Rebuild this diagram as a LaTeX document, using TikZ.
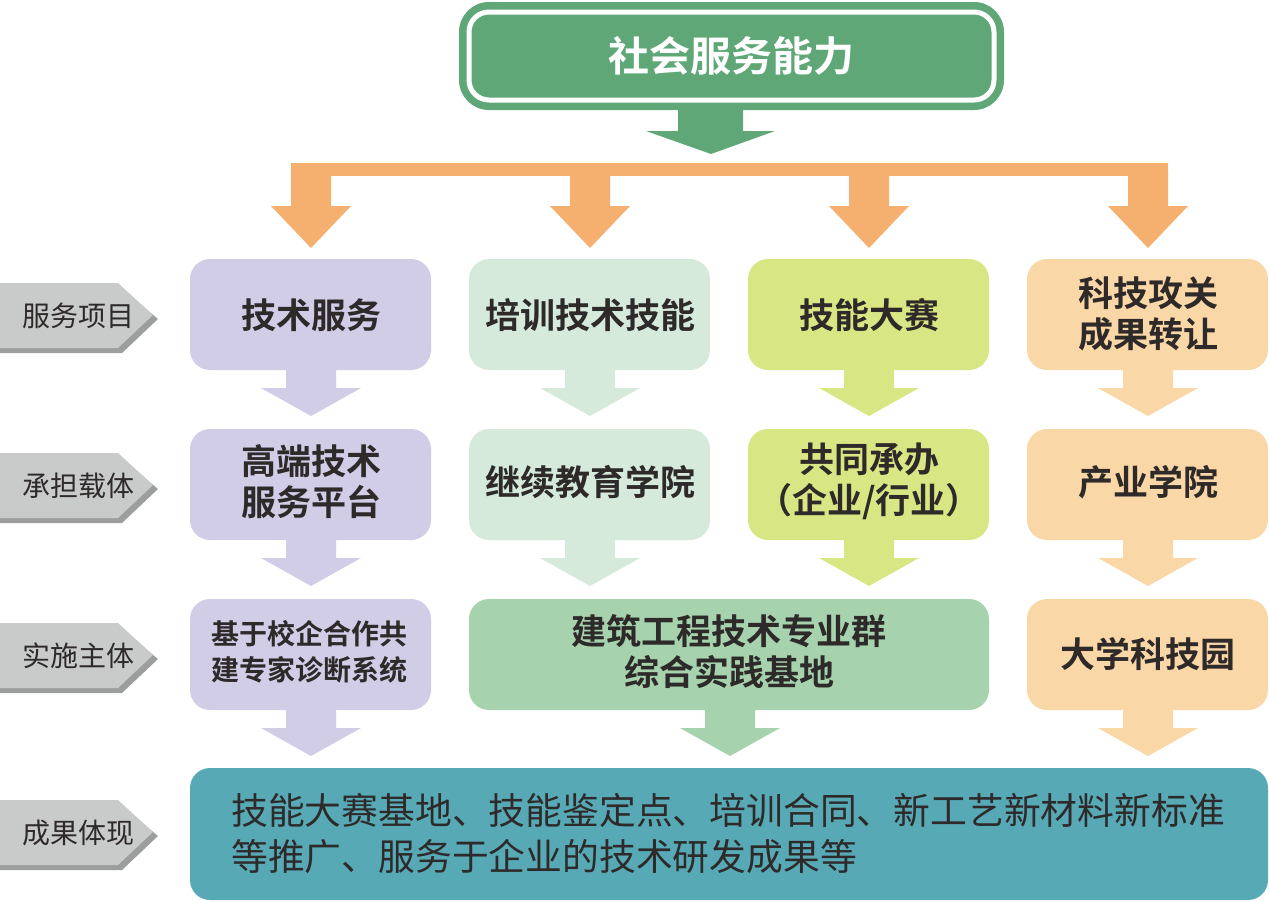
\documentclass[tikz,border=0pt]{standalone}
\usepackage{fontspec}
\newfontfamily\cjk{Noto Sans CJK SC}
\newfontfamily\cjkb{Noto Sans CJK SC Bold}
\begin{document}
\begin{tikzpicture}[x=1pt,y=-1pt,
  box/.style={rounded corners=20pt},
  lbl/.style={font=\cjkb\fontsize{35}{41}\selectfont,color=txt,align=center,inner sep=0pt},
  tag/.style={font=\cjk\fontsize{28}{30}\selectfont,color=txt}]
\definecolor{txt}{HTML}{2E2A2A}
\definecolor{pu}{HTML}{D1CDE7}
\definecolor{lg}{HTML}{D5EADB}
\definecolor{li}{HTML}{D8E683}
\definecolor{pe}{HTML}{FAD7A6}
\definecolor{mg}{HTML}{A6D3AE}
\definecolor{te}{HTML}{57A9B5}
\definecolor{or}{HTML}{F5AF6E}
\definecolor{tg}{HTML}{5FA777}
\definecolor{g1}{HTML}{C9CACA}
\definecolor{g2}{HTML}{9C9D9D}
\useasboundingbox (0,0) rectangle (1269,902);
% top
\fill[tg,rounded corners=30pt] (459,2) rectangle (1004,110);
\draw[white,line width=5pt,rounded corners=20pt] (469,12) rectangle (994,100);
\node[font=\cjkb\fontsize{41}{44}\selectfont,white] (top) at (731,56) {社会服务能力};
\fill[tg] (678,109) -- (743,109) -- (743,131) -- (775,131) -- (711,154) -- (646,131) -- (678,131) -- cycle;
% orange bar
\fill[or] (291,163) rectangle (1168,176);
\foreach \c in {311,590,869,1148}{
  \fill[or] (\c-20,170) -- (\c+20,170) -- (\c+20,206) -- (\c+40,206) -- (\c,248) -- (\c-40,206) -- (\c-20,206) -- cycle;}
% small arrows
\foreach \c/\y/\col in {311/370/pu,590/370/lg,869/370/li,1148/370/pe,311/540/pu,590/540/lg,869/540/li,1148/540/pe,311/710/pu,730/710/mg,1148/710/pe}{
  \fill[\col] (\c-25,\y-5) -- (\c+25,\y-5) -- (\c+25,\y+18) -- (\c+50,\y+18) -- (\c,\y+46) -- (\c-50,\y+18) -- (\c-25,\y+18) -- cycle;}
% boxes
\fill[pu,box] (190,259) rectangle (431,370); \node[lbl] (a1) at (311,315) {技术服务};
\fill[lg,box] (469,259) rectangle (710,370); \node[lbl] (b1) at (590,315) {培训技术技能};
\fill[li,box] (748,259) rectangle (989,370); \node[lbl] (c1) at (869,315) {技能大赛};
\fill[pe,box] (1027,259) rectangle (1268,370); \node[lbl] (d1) at (1148,314) {科技攻关\\成果转让};
\fill[pu,box] (190,429) rectangle (431,540); \node[lbl] (a2) at (311,482) {高端技术\\服务平台};
\fill[lg,box] (469,429) rectangle (710,540); \node[lbl] (b2) at (590,482) {继续教育学院};
\fill[li,box] (748,429) rectangle (989,540); \node[lbl] (c2) at (869,481) {共同承办\\（企业/行业）};
\fill[pe,box] (1027,429) rectangle (1268,540); \node[lbl] (d2) at (1148,482) {产业学院};
\fill[pu,box] (190,599) rectangle (431,710); \node[lbl,font=\cjkb\fontsize{28}{36}\selectfont] (a3) at (309,652) {基于校企合作共\\建专家诊断系统};
\fill[mg,box] (469,599) rectangle (989,710); \node[lbl] (b3) at (729,652) {建筑工程技术专业群\\综合实践基地};
\fill[pe,box] (1027,599) rectangle (1268,710); \node[lbl] (d3) at (1148,654) {大学科技园};
\fill[te,box] (190,768) rectangle (1268,900);
\node[font=\cjk\fontsize{36.8}{46}\selectfont,color=txt,align=left,anchor=west,inner sep=0pt] (res) at (231,834) {技能大赛基地、技能鉴定点、培训合同、新工艺新材料新标准\\等推广、服务于企业的技术研发成果等};
% tags
\foreach \y/\t [count=\i] in {316/服务项目,486/承担载体,656/实施主体,833/成果体现}{
  \fill[g2] (0,\y-27) -- (122,\y-27) -- (158,\y+3) -- (122,\y+37) -- (0,\y+37) -- cycle;
  \fill[g1] (0,\y-33) -- (118,\y-33) -- (153,\y-1) -- (118,\y+32) -- (0,\y+32) -- cycle;
  \node[tag] (t\i) at (78,\y) {\t};}
\end{tikzpicture}
\end{document}
